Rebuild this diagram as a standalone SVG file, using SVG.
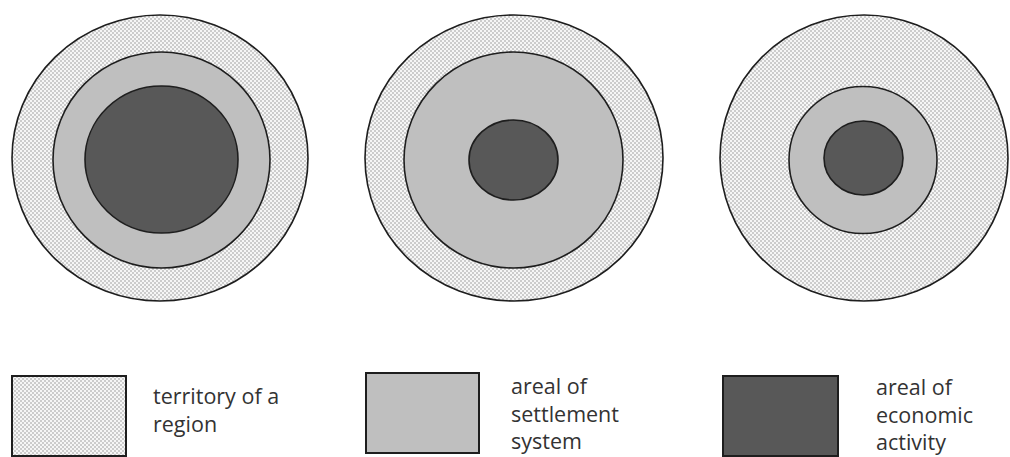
<svg xmlns="http://www.w3.org/2000/svg" width="1010" height="457" viewBox="0 0 1010 457">
  <defs>
    <!-- fine stipple used for the region territory -->
    <pattern id="stipple" width="4" height="4" patternUnits="userSpaceOnUse">
      <rect width="4" height="4" fill="#f6f6f6"/>
      <rect x="0" y="0" width="2" height="2" fill="#cccccc"/>
      <rect x="2" y="2" width="2" height="2" fill="#cccccc"/>
    </pattern>
  </defs>
  <style>
    .ring { stroke: #1e1e1e; stroke-width: 1.6; }
    .territory { fill: url(#stipple); }
    .settlement { fill: #bfbfbf; }
    .economy { fill: #585858; }
    .key { stroke: #1e1e1e; stroke-width: 2; }
    .label { font-family: "Open Sans", "Noto Sans", sans-serif; font-size: 21.5px; fill: #333333; }
  </style>
  <rect width="1010" height="457" fill="#ffffff"/>

  <!-- model 1: economic activity fills most of the settlement area -->
  <g id="model-1">
    <ellipse class="ring territory" cx="160" cy="158" rx="148" ry="143"/>
    <ellipse class="ring settlement" cx="161.5" cy="160" rx="108.5" ry="108"/>
    <ellipse class="ring economy" cx="161.5" cy="159.5" rx="76.5" ry="73.5"/>
  </g>

  <!-- model 2: wide settlement area, small economic core -->
  <g id="model-2">
    <ellipse class="ring territory" cx="514" cy="158" rx="149" ry="143"/>
    <ellipse class="ring settlement" cx="513.5" cy="160" rx="109.5" ry="108"/>
    <ellipse class="ring economy" cx="513.5" cy="160" rx="44.5" ry="40"/>
  </g>

  <!-- model 3: compact settlement area inside a large territory -->
  <g id="model-3">
    <ellipse class="ring territory" cx="864" cy="158" rx="144" ry="143"/>
    <ellipse class="ring settlement" cx="863" cy="160" rx="74" ry="73.5"/>
    <ellipse class="ring economy" cx="863.5" cy="158" rx="39.5" ry="37"/>
  </g>

  <!-- legend -->
  <g id="legend-territory">
    <rect class="key territory" x="12" y="376" width="114" height="80"/>
    <text class="label" x="153" y="404">territory of a</text>
    <text class="label" x="153" y="432">region</text>
  </g>
  <g id="legend-settlement">
    <rect class="key settlement" x="366" y="373" width="113" height="80"/>
    <text class="label" x="511" y="394">areal of</text>
    <text class="label" x="511" y="422">settlement</text>
    <text class="label" x="511" y="449">system</text>
  </g>
  <g id="legend-economy">
    <rect class="key economy" x="723" y="376" width="115" height="80"/>
    <text class="label" x="876" y="395">areal of</text>
    <text class="label" x="876" y="423">economic</text>
    <text class="label" x="876" y="450">activity</text>
  </g>

  <g id="connectors"/>
</svg>
